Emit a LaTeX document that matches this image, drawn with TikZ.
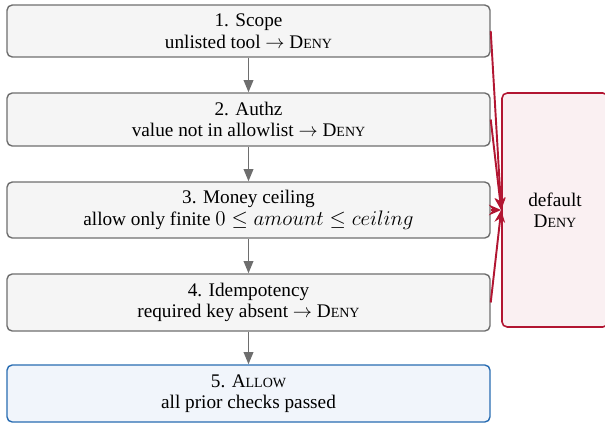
\documentclass[tikz,border=0pt]{standalone}
\usepackage{fontspec}
\setmainfont{Liberation Serif}
\usetikzlibrary{arrows.meta}
\definecolor{boxgray}{RGB}{110,110,110}
\definecolor{boxfill}{RGB}{245,245,245}
\definecolor{denyred}{RGB}{178,22,50}
\definecolor{denyfill}{RGB}{250,240,242}
\definecolor{allowblue}{RGB}{40,108,178}
\definecolor{allowfill}{RGB}{241,245,251}
\newcommand{\fsc}[2]{#1{\fontsize{8}{9}\selectfont #2}}
\newcommand{\mth}[1]{{\fontsize{12.3}{12.3}\selectfont$#1$}}
\begin{document}
\begin{tikzpicture}[x=0.5714pt,y=-0.5714pt,
  check/.style={draw=boxgray,fill=boxfill,line width=0.8pt,rounded corners=3pt,
    minimum width=276pt,align=center,inner sep=0pt,font=\fontsize{11}{12.3}\selectfont},
  allowbox/.style={check,draw=allowblue,fill=allowfill},
  denybox/.style={draw=denyred,fill=denyfill,line width=0.9pt,rounded corners=3pt,
    minimum width=60.6pt,minimum height=133.7pt,align=center,inner sep=0pt,font=\fontsize{11}{12.3}\selectfont},
  flow/.style={draw=boxgray,line width=1pt,-{Triangle[length=7pt,width=5.5pt]}},
  denyarrow/.style={draw=denyred,line width=1.1pt,-{Stealth[length=7pt,width=6pt]}}]
\useasboundingbox (0,0) rectangle (605,423);
\node[check,minimum height=29.7pt] (s1) at (248.5,31) {1. Scope\\unlisted tool $\rightarrow$ \fsc{D}{ENY}};
\node[check,minimum height=30.3pt] (s2) at (248.5,119.5) {2. Authz\\value not in allowlist $\rightarrow$ \fsc{D}{ENY}};
\node[check,minimum height=32pt] (s3) at (248.5,210) {3. Money ceiling\\allow only finite \mth{0 \le amount \le ceiling}};
\node[check,minimum height=32.6pt] (s4) at (248.5,302.5) {4. Idempotency\\required key absent $\rightarrow$ \fsc{D}{ENY}};
\node[allowbox,minimum height=32.6pt] (s5) at (248.5,393.5) {5. \fsc{A}{LLOW}\\all prior checks passed};
\node[denybox] (deny) at (555,210) {default\\\fsc{D}{ENY}};
\draw[flow] (s1) -- (s2);
\draw[flow] (s2) -- (s3);
\draw[flow] (s3) -- (s4);
\draw[flow] (s4) -- (s5);
\draw[denyarrow] (s1.east) -- (deny.west);
\draw[denyarrow] (s2.east) -- (deny.west);
\draw[denyarrow] (s3.east) -- (deny.west);
\draw[denyarrow] (s4.east) -- (deny.west);
\end{tikzpicture}
\end{document}
